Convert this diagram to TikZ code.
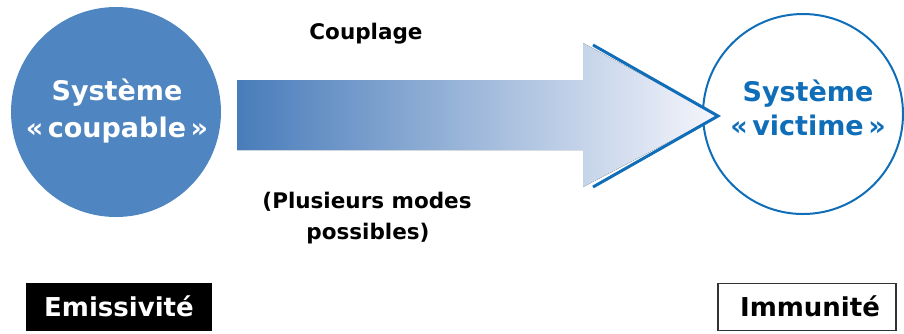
\documentclass[tikz,border=0pt]{standalone}
\usepackage{fontspec}
\setmainfont{DejaVu Sans}
\begin{document}
\begin{tikzpicture}[x=1pt,y=-1pt,
  lbl/.style={anchor=base,inner sep=0pt,font=\bfseries},
  big/.style={lbl,font=\fontsize{27}{30}\bfseries\selectfont},
  mid/.style={lbl,font=\fontsize{21.5}{24}\bfseries\selectfont},
  tag/.style={lbl,font=\fontsize{26}{28}\bfseries\selectfont}]
\definecolor{culp}{RGB}{79,134,193}
\definecolor{vict}{RGB}{16,110,185}
\definecolor{shaftL}{RGB}{72,124,186}
\definecolor{shaftR}{RGB}{246,246,252}
\useasboundingbox (0,0) rectangle (904,333);
% circles
\node[circle,fill=culp,minimum size=210pt,inner sep=0pt] (culprit) at (116,112) {};
\node[circle,draw=vict,line width=2pt,fill=white,minimum size=200pt,inner sep=0pt] (victim) at (803,114) {};
% arrow
\coordinate (tip) at (718,116);
\fill[left color=shaftL,right color=shaftR]
  (237,80) -- (583,80) -- (583,43) -- (tip) -- (583,187) -- (583,150) -- (237,150) -- cycle;
\coordinate (h1) at (593,45);
\coordinate (h2) at (593,187);
\draw[vict,line width=3pt] (h1) -- (tip) -- (h2);
% texts
\node[big,white] (c1) at (117,100) {Système};
\node[big,white] (c2) at (117,137) {«\,coupable\,»};
\node[big,vict] (v1) at (808,101) {Système};
\node[big,vict] (v2) at (808,135) {«\,victime\,»};
\node[mid] (coupl) at (366,39) {Couplage};
\node[mid] (m1) at (367,208) {(Plusieurs modes};
\node[mid] (m2) at (368,239) {possibles)};
% tags
\node[fill=black,minimum width=186pt,minimum height=48pt,inner sep=0pt] (ebox) at (119,307) {};
\node[tag,white] (etxt) at (119,316) {Emissivité};
\node[draw=black!80,line width=1.5pt,fill=white,minimum width=178pt,minimum height=47pt,inner sep=0pt] (ibox) at (807,307) {};
\node[tag] (itxt) at (810,316) {Immunité};
\end{tikzpicture}
\end{document}
